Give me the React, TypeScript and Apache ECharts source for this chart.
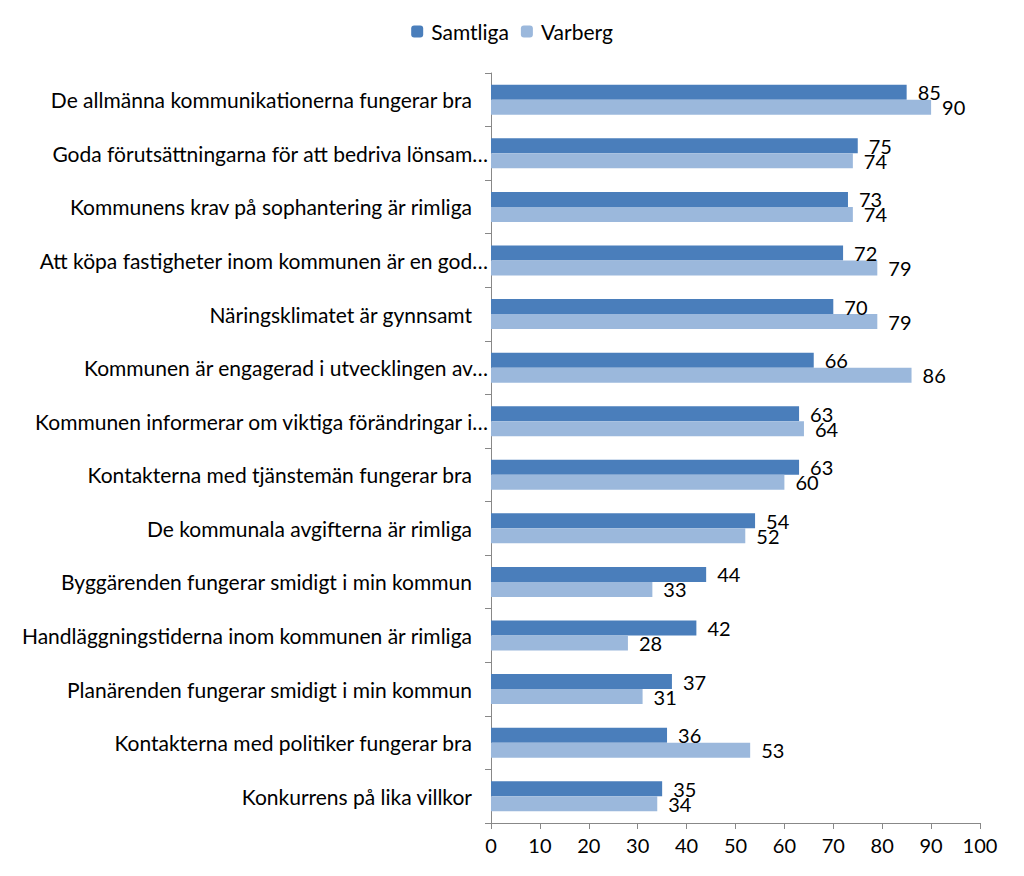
import React, { useEffect, useRef } from "react";
import * as echarts from "echarts";

const categories = [
  "De allmänna kommunikationerna fungerar bra",
  "Goda förutsättningarna för att bedriva lönsam…",
  "Kommunens krav på sophantering är rimliga",
  "Att köpa fastigheter inom kommunen är en god…",
  "Näringsklimatet är gynnsamt",
  "Kommunen är engagerad i utvecklingen av…",
  "Kommunen informerar om viktiga förändringar i…",
  "Kontakterna med tjänstemän fungerar bra",
  "De kommunala avgifterna är rimliga",
  "Byggärenden fungerar smidigt i min kommun",
  "Handläggningstiderna inom kommunen är rimliga",
  "Planärenden fungerar smidigt i min kommun",
  "Kontakterna med politiker fungerar bra",
  "Konkurrens på lika villkor",
];
const samtliga = [85, 75, 73, 72, 70, 66, 63, 63, 54, 44, 42, 37, 36, 35];
const varberg = [90, 74, 74, 79, 79, 86, 64, 60, 52, 33, 28, 31, 53, 34];
const xTicks = { min: 0, max: 100, interval: 10 };

const FONT = "Lato";

export default function App() {
  const ref = useRef<HTMLDivElement>(null);
  useEffect(() => {
    const chart = echarts.init(ref.current!, null, { renderer: "svg" });
    const labelStyle = {
      show: true,
      position: "right" as const,
      distance: 11,
      fontSize: 20,
      color: "#000",
      fontFamily: FONT,
    };
    chart.setOption({
      animation: false,
      textStyle: { fontFamily: FONT },
      legend: {
        top: 16,
        left: "center",
        itemWidth: 12,
        itemHeight: 12,
        itemGap: 12,
        textStyle: { fontSize: 21, color: "#000", fontFamily: FONT, padding: [0, 0, 0, 3] },
        data: ["Samtliga", "Varberg"],
      },
      grid: { left: 491, right: 44, top: 73, bottom: 53, containLabel: false },
      xAxis: {
        type: "value",
        min: xTicks.min,
        max: xTicks.max,
        interval: xTicks.interval,
        splitLine: { show: false },
        axisLine: { show: true, lineStyle: { color: "#888", width: 1 } },
        axisTick: { show: true, length: 6, lineStyle: { color: "#888" } },
        axisLabel: { fontSize: 20, color: "#000", margin: 12, fontFamily: FONT },
      },
      yAxis: {
        type: "category",
        inverse: true,
        data: categories,
        axisLine: { show: true, lineStyle: { color: "#888", width: 1 } },
        axisTick: { show: true, length: 6, lineStyle: { color: "#888" } },
        axisLabel: {
          fontSize: 21,
          color: "#000",
          margin: 3,
          fontFamily: FONT,
          formatter: (s: string) => (s.endsWith("…") ? s : s + "{sp|}"),
          rich: { sp: { width: 16 } },
        },
      },
      series: [
        {
          name: "Samtliga",
          type: "bar",
          data: samtliga,
          barWidth: 15,
          barGap: "0%",
          itemStyle: { color: "#4A7EBB" },
          label: labelStyle,
        },
        {
          name: "Varberg",
          type: "bar",
          data: varberg,
          barWidth: 15,
          barGap: "0%",
          itemStyle: { color: "#9BB8DC" },
          label: labelStyle,
        },
      ],
    });
    return () => chart.dispose();
  }, []);
  return (
    <div
      ref={ref}
      style={{ position: "fixed", left: 0, top: 0, width: 1024, height: 876, background: "#fff" }}
    />
  );
}
